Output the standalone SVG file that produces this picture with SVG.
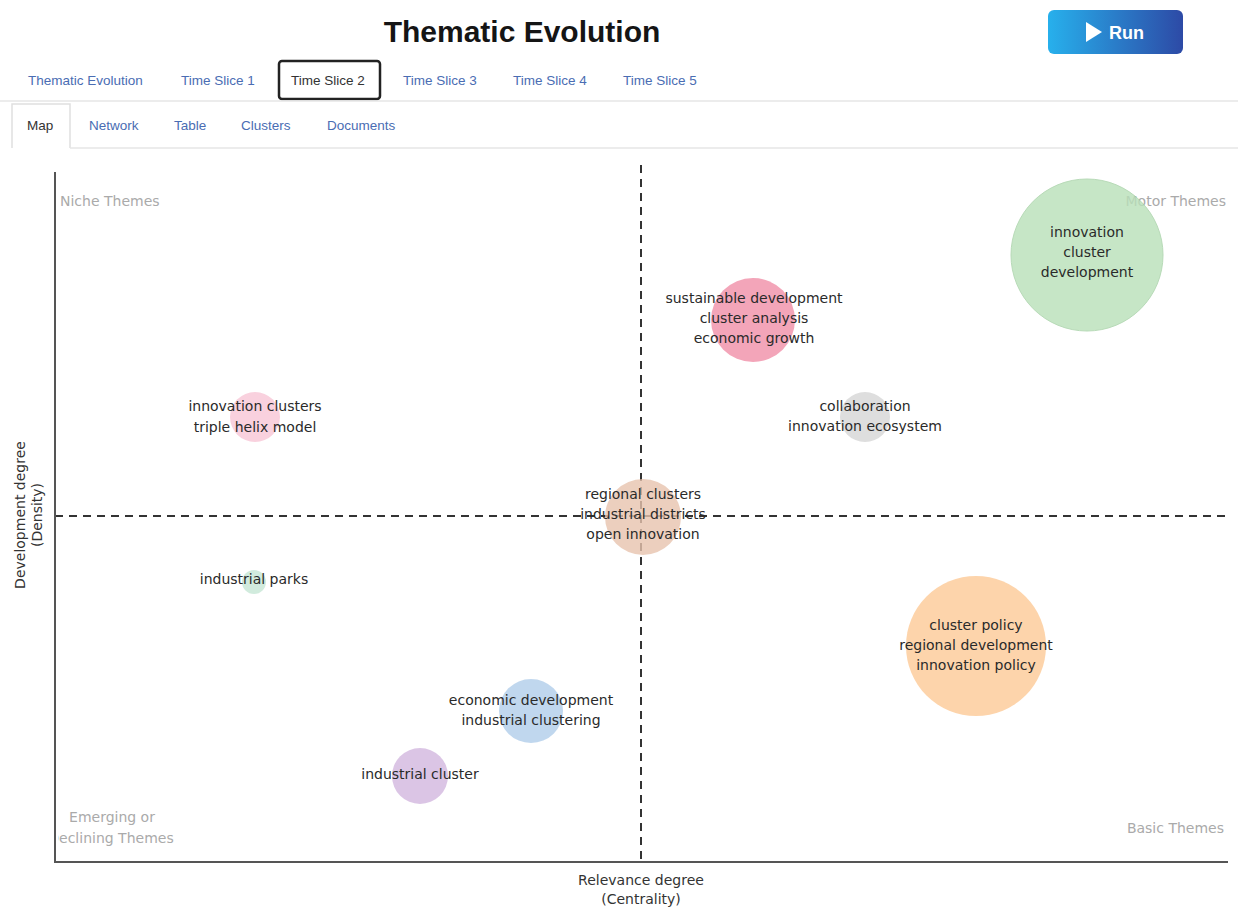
<svg xmlns="http://www.w3.org/2000/svg" width="1238" height="912" viewBox="0 0 1238 912">
  <defs>
    <linearGradient id="runGrad" x1="0" y1="0" x2="1" y2="0">
      <stop offset="0" stop-color="#27b0ec"/>
      <stop offset="1" stop-color="#2d4aa6"/>
    </linearGradient>
    <style>
      .title { font-family: "Liberation Sans", Arial, sans-serif; font-size: 30px; font-weight: bold; fill: #151515; }
      .tab { font-family: "Liberation Sans", Arial, sans-serif; font-size: 13.5px; fill: #4a6db3; }
      .tabActive { fill: #333; }
      .quad { font-family: "DejaVu Sans", Verdana, sans-serif; font-size: 14px; fill: #aaaaaa; }
      .lbl { font-family: "DejaVu Sans", Verdana, sans-serif; font-size: 14px; fill: #2a2a2a; text-anchor: middle; dominant-baseline: middle; }
      .axisTitle { font-family: "DejaVu Sans", Verdana, sans-serif; font-size: 14px; fill: #333; text-anchor: middle; }
      .axis { stroke: #555; stroke-width: 2; fill: none; }
      .dash { stroke: #333; stroke-width: 2; stroke-dasharray: 8 6; fill: none; }
      .bubble { opacity: 0.8; }
    </style>
  </defs>

  <rect width="1238" height="912" fill="#ffffff"/>

  <!-- header -->
  <text class="title" x="522" y="42" text-anchor="middle">Thematic Evolution</text>
  <g id="run-button">
    <rect x="1048" y="10" width="135" height="44" rx="6" fill="url(#runGrad)"/>
    <polygon points="1086,22 1086,42 1102,32" fill="#ffffff"/>
    <text x="1109" y="39" font-family="Liberation Sans, Arial, sans-serif" font-size="18" font-weight="bold" fill="#ffffff">Run</text>
  </g>

  <!-- time slice tabs -->
  <g id="slice-tabs">
    <text class="tab" x="28" y="85">Thematic Evolution</text>
    <text class="tab" x="181" y="85">Time Slice 1</text>
    <rect x="279" y="61" width="101" height="38" rx="3" fill="none" stroke="#222" stroke-width="2.5"/>
    <text class="tab tabActive" x="291" y="85">Time Slice 2</text>
    <text class="tab" x="403" y="85">Time Slice 3</text>
    <text class="tab" x="513" y="85">Time Slice 4</text>
    <text class="tab" x="623" y="85">Time Slice 5</text>
    <line x1="0" y1="101" x2="1238" y2="101" stroke="#e6e6e6" stroke-width="1.5"/>
  </g>

  <!-- view tabs -->
  <g id="view-tabs">
    <path d="M12,148 V104 H70 V148" fill="#ffffff" stroke="#e0e0e0" stroke-width="1.5"/>
    <line x1="70" y1="148" x2="1238" y2="148" stroke="#e6e6e6" stroke-width="1.5"/>
    <text class="tab tabActive" x="27" y="130">Map</text>
    <text class="tab" x="89" y="130">Network</text>
    <text class="tab" x="174" y="130">Table</text>
    <text class="tab" x="241" y="130">Clusters</text>
    <text class="tab" x="327" y="130">Documents</text>
  </g>

  <!-- quadrant captions -->
  <g id="quadrants">
    <text class="quad" x="60" y="206">Niche Themes</text>
    <text class="quad" x="1226" y="206" text-anchor="end">Motor Themes</text>
    <text class="quad" x="112" y="822" text-anchor="middle">Emerging or</text>
    <clipPath id="plotClip"><rect x="58" y="160" width="1178" height="700"/></clipPath>
    <text class="quad" x="111" y="843" text-anchor="middle" clip-path="url(#plotClip)">Declining Themes</text>
    <text class="quad" x="1224" y="833" text-anchor="end">Basic Themes</text>
  </g>

  <!-- axes and median lines -->
  <g id="axes">
    <line class="dash" x1="641" y1="165" x2="641" y2="862"/>
    <line class="dash" x1="55" y1="516" x2="1228" y2="516"/>
    <polyline class="axis" points="55,172 55,862 1228,862"/>
    <text class="axisTitle" x="641" y="885">Relevance degree</text>
    <text class="axisTitle" x="641" y="904">(Centrality)</text>
    <text class="axisTitle" transform="translate(25,515) rotate(-90)" font-size="16">Development degree</text>
    <text class="axisTitle" transform="translate(42,515) rotate(-90)" font-size="16">(Density)</text>
  </g>

  <!-- theme bubbles -->
  <g id="theme-innovation-cluster-development">
    <circle class="bubble" cx="1087" cy="255" r="76" fill="#b9e0b9" stroke="#a6d2a6" stroke-width="1"/>
    <text class="lbl" x="1087" y="233">innovation</text>
    <text class="lbl" x="1087" y="253">cluster</text>
    <text class="lbl" x="1087" y="273">development</text>
  </g>

  <g id="theme-sustainable-development">
    <circle class="bubble" cx="753" cy="320" r="42" fill="#f08fa8"/>
    <text class="lbl" x="754" y="299">sustainable development</text>
    <text class="lbl" x="754" y="319">cluster analysis</text>
    <text class="lbl" x="754" y="339">economic growth</text>
  </g>

  <g id="theme-innovation-clusters">
    <circle class="bubble" cx="255" cy="417" r="25" fill="#f7c6d6"/>
    <text class="lbl" x="255" y="407">innovation clusters</text>
    <text class="lbl" x="255" y="428">triple helix model</text>
  </g>

  <g id="theme-collaboration">
    <circle class="bubble" cx="865" cy="417" r="25" fill="#d6d6d6"/>
    <text class="lbl" x="865" y="407">collaboration</text>
    <text class="lbl" x="865" y="427">innovation ecosystem</text>
  </g>

  <g id="theme-regional-clusters">
    <circle class="bubble" cx="643" cy="517" r="38" fill="#e7c3ae"/>
    <text class="lbl" x="643" y="495">regional clusters</text>
    <text class="lbl" x="643" y="515">industrial districts</text>
    <text class="lbl" x="643" y="535">open innovation</text>
  </g>

  <g id="theme-industrial-parks">
    <circle class="bubble" cx="254" cy="582" r="12" fill="#c6e6d4"/>
    <text class="lbl" x="254" y="580">industrial parks</text>
  </g>

  <g id="theme-cluster-policy">
    <circle class="bubble" cx="976" cy="646" r="70" fill="#fdc996"/>
    <text class="lbl" x="976" y="626">cluster policy</text>
    <text class="lbl" x="976" y="646">regional development</text>
    <text class="lbl" x="976" y="666">innovation policy</text>
  </g>

  <g id="theme-economic-development">
    <circle class="bubble" cx="531" cy="711" r="32" fill="#b0cdea"/>
    <text class="lbl" x="531" y="701">economic development</text>
    <text class="lbl" x="531" y="721">industrial clustering</text>
  </g>

  <g id="theme-industrial-cluster">
    <circle class="bubble" cx="420" cy="776" r="28" fill="#d2b6de"/>
    <text class="lbl" x="420" y="775">industrial cluster</text>
  </g>
</svg>
